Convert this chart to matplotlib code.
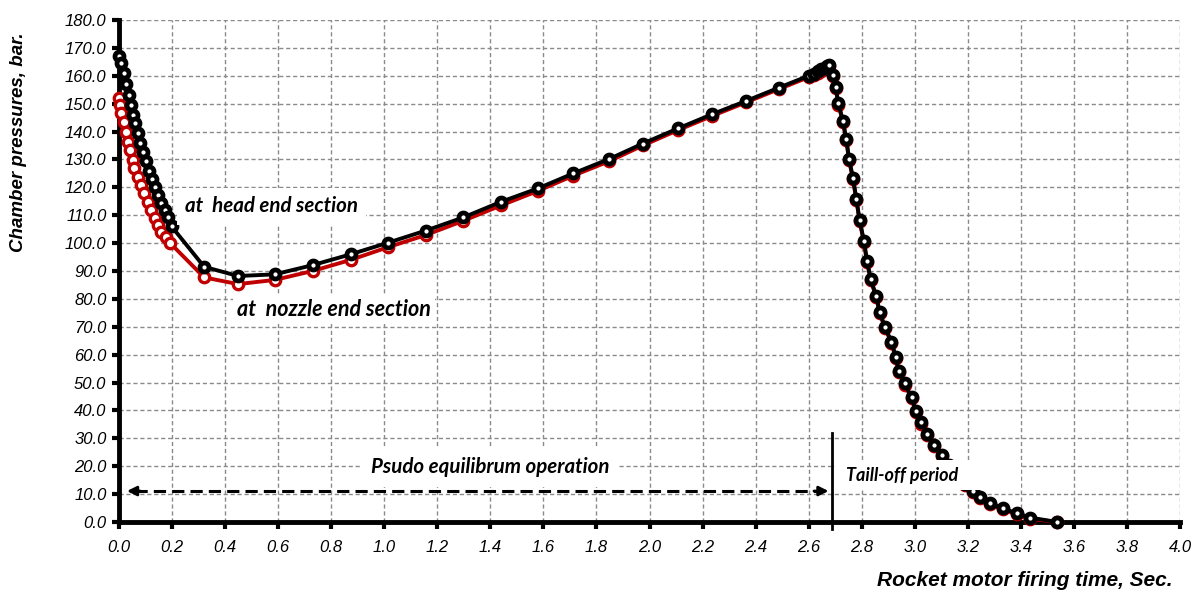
import matplotlib
matplotlib.use("Agg")
import matplotlib.pyplot as plt
from matplotlib.patches import Rectangle

# ---------------- data ----------------
t_head = [0.000, 0.008, 0.018, 0.028, 0.036, 0.044, 0.052, 0.060, 0.070, 0.080,
          0.090, 0.100, 0.112, 0.124, 0.136, 0.148, 0.160, 0.172, 0.184, 0.198,
          0.321, 0.449, 0.587, 0.730, 0.874, 1.016, 1.157, 1.298, 1.440, 1.579,
          1.713, 1.849, 1.975, 2.107, 2.236, 2.365, 2.487, 2.600, 2.620, 2.635,
          2.648, 2.660, 2.670, 2.677, 2.692, 2.702, 2.712, 2.729, 2.742, 2.752,
          2.767, 2.780, 2.792, 2.808, 2.820, 2.834, 2.855, 2.868, 2.888, 2.912,
          2.928, 2.940, 2.962, 2.988, 3.004, 3.025, 3.048, 3.072, 3.101, 3.130,
          3.160, 3.190, 3.220, 3.245, 3.283, 3.333, 3.384, 3.434, 3.537]
p_head = [167.2, 164.5, 161.0, 157.0, 153.0, 149.5, 146.0, 143.0, 139.5, 136.0,
          132.5, 129.5, 126.0, 123.0, 120.0, 117.2, 114.5, 112.0, 109.2, 106.0,
          91.5, 88.2, 88.8, 92.1, 96.0, 100.2, 104.5, 109.2, 114.8, 119.6,
          125.0, 130.2, 135.7, 141.1, 146.2, 151.0, 155.7, 160.0, 160.8, 161.6,
          162.3, 162.9, 163.4, 163.9, 160.3, 155.9, 150.1, 143.9, 137.2, 130.3,
          123.4, 115.7, 108.3, 100.9, 93.7, 87.0, 81.0, 75.2, 69.8, 64.7,
          59.3, 54.1, 49.7, 44.7, 39.9, 35.7, 31.6, 27.6, 24.0, 20.5,
          17.0, 13.8, 11.2, 9.1, 6.7, 4.9, 3.1, 1.6, 0.0]

t_nozzle = [0.000, 0.002, 0.008, 0.017, 0.025, 0.033, 0.042, 0.052, 0.058, 0.071,
            0.084, 0.096, 0.109, 0.122, 0.134, 0.146, 0.159, 0.178, 0.194,
            0.321, 0.449, 0.587, 0.730, 0.874, 1.016, 1.157, 1.298, 1.440, 1.579,
            1.713, 1.849, 1.975, 2.107, 2.236, 2.365, 2.487, 2.600, 2.620, 2.635,
            2.648, 2.660, 2.670, 2.677, 2.692, 2.702, 2.712, 2.729, 2.742, 2.752,
            2.767, 2.780, 2.792, 2.808, 2.820, 2.834, 2.855, 2.868, 2.888, 2.912,
            2.928, 2.940, 2.962, 2.988, 3.004, 3.025, 3.048, 3.072, 3.101, 3.130,
            3.160, 3.190, 3.220, 3.245, 3.283, 3.333, 3.384, 3.434, 3.537]
p_nozzle = [151.9, 149.5, 146.5, 143.5, 139.9, 136.3, 133.4, 129.8, 126.8, 123.8,
            120.8, 117.8, 114.8, 111.9, 108.9, 106.5, 104.1, 102.3, 99.9,
            87.7, 85.3, 86.8, 90.0, 94.0, 98.6, 102.9, 108.0, 113.5, 118.7,
            124.2, 129.4, 135.0, 140.5, 145.6, 150.5, 155.2, 159.5, 160.3, 161.1,
            161.8, 162.4, 162.9, 163.4, 159.9, 155.5, 149.7, 143.5, 136.8, 129.9,
            123.0, 115.3, 107.9, 100.5, 93.3, 86.6, 80.6, 74.8, 69.4, 64.3,
            58.9, 53.7, 49.3, 44.3, 39.5, 35.3, 31.2, 27.2, 23.6, 20.1,
            16.6, 13.4, 10.8, 8.7, 6.3, 4.5, 2.7, 1.2, 0.0]

x_ticks = [0.0, 0.2, 0.4, 0.6, 0.8, 1.0, 1.2, 1.4, 1.6, 1.8, 2.0,
           2.2, 2.4, 2.6, 2.8, 3.0, 3.2, 3.4, 3.6, 3.8, 4.0]
y_ticks = [0, 10, 20, 30, 40, 50, 60, 70, 80, 90, 100,
           110, 120, 130, 140, 150, 160, 170, 180]

label_head = "at  head end section"
label_nozzle = "at  nozzle end section"
label_pseudo = "Psudo equilibrum operation"
label_tail = "Taill-off period"
x_label = "Rocket motor firing time, Sec."
y_label = "Chamber pressures, bar."

# ---------------- figure ----------------
W, H = 1203, 595
fig = plt.figure(figsize=(W / 100, H / 100), dpi=100)
ax = fig.add_axes([119 / W, 1 - 522 / H, (1180 - 119) / W, (522 - 20) / H])
ax.set_xlim(0, 4.0)
ax.set_ylim(0, 180)

ax.set_xticks(x_ticks)
ax.set_yticks(y_ticks)
ax.set_xticklabels([f"{v:.1f}" for v in x_ticks])
ax.set_yticklabels([f"{v:.1f}" for v in y_ticks])
for lab in ax.get_xticklabels() + ax.get_yticklabels():
    lab.set_fontfamily("Liberation Sans")
    lab.set_fontstyle("italic")
    lab.set_fontsize(12)
ax.tick_params(axis="both", direction="out", length=5, width=3, color="black")
ax.tick_params(axis="x", pad=8)
ax.tick_params(axis="y", pad=4)

ax.grid(True, color="#8a8a8a", linestyle=(0, (3, 2)), linewidth=1.0)
ax.set_axisbelow(True)
for s in ["top", "right"]:
    ax.spines[s].set_visible(False)
for s in ["left", "bottom"]:
    ax.spines[s].set_linewidth(3.5)
    ax.spines[s].set_color("black")

ax.plot(t_nozzle, p_nozzle, color="#c00000", lw=2.8, marker="o", ms=7.5,
        mfc="white", mec="#c00000", mew=2.4, zorder=3, clip_on=False)
ax.plot(t_head, p_head, color="black", lw=2.8, marker="o", ms=6.5,
        mfc="white", mec="black", mew=3.4, zorder=4, clip_on=False)

ann_font = dict(family="Lato", weight="bold", style="italic", size=14.8)
ax.text(0.575, 113.2, label_head, ha="center", va="center", zorder=6,
        bbox=dict(facecolor="white", edgecolor="none", pad=6), **ann_font)
ax.text(0.81, 76.3, label_nozzle, ha="center", va="center", zorder=2.5,
        bbox=dict(facecolor="white", edgecolor="none", pad=3),
        **dict(ann_font, size=15.5))
ax.text(1.40, 19.6, label_pseudo, ha="center", va="center", zorder=6,
        bbox=dict(facecolor="white", edgecolor="none", pad=7), **ann_font)

# tail-off text box (covers the curve)
ax.add_patch(Rectangle((2.70, 11.6), 0.70, 10.6, facecolor="white",
                       edgecolor="none", zorder=7))
ax.text(2.74, 16.8, label_tail, ha="left", va="center", zorder=8,
        **dict(ann_font, size=13))

# dashed double arrow
ax.plot([0.06, 2.64], [11.1, 11.1], color="black", lw=2.2,
        linestyle=(0, (4, 2)), zorder=5)
ax.annotate("", xy=(0.03, 11.1), xytext=(0.08, 11.1), zorder=5,
            arrowprops=dict(arrowstyle="-|>", color="black", lw=2,
                            mutation_scale=14, shrinkA=0, shrinkB=0))
ax.annotate("", xy=(2.675, 11.1), xytext=(2.62, 11.1), zorder=5,
            arrowprops=dict(arrowstyle="-|>", color="black", lw=2,
                            mutation_scale=14, shrinkA=0, shrinkB=0))
# vertical divider
ax.plot([2.688, 2.688], [32.0, -2.6], color="black", lw=2.0, zorder=5,
        clip_on=False)

lab_font = dict(family="Liberation Sans", weight="bold", style="italic", size=15)
fig.text(1025 / W, 1 - 581 / H, x_label, ha="center", va="center", **lab_font)
fig.text(19 / W, 1 - 142 / H, y_label, ha="center", va="center",
         rotation=90, **dict(lab_font, size=13.5))

fig.savefig("out.png", dpi=100)
